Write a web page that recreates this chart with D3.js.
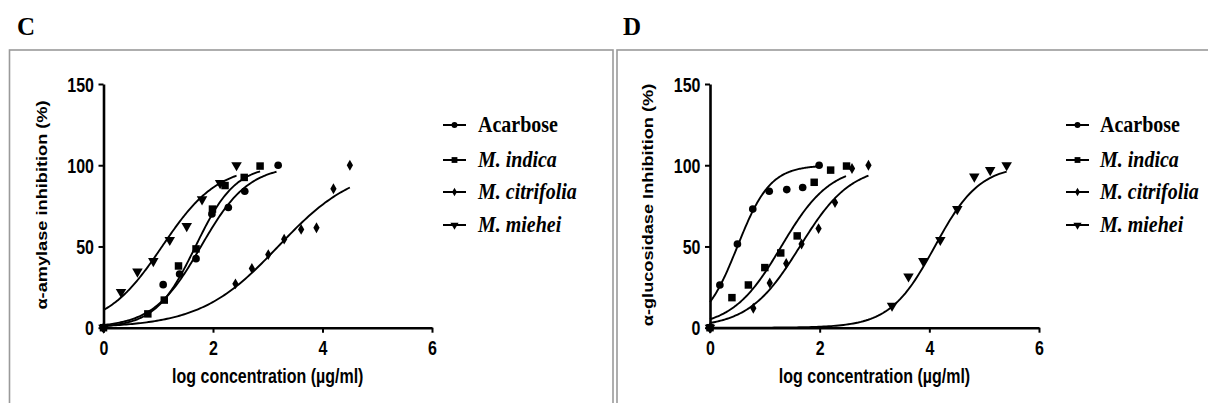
<!DOCTYPE html>
<html><head><meta charset="utf-8">
<script src="https://cdn.jsdelivr.net/npm/d3@7"></script>
<style>body{margin:0;background:#fff}svg{display:block}</style>
</head><body>
<svg id="chart" width="1208" height="403"></svg>
<script>
// ---------- data ----------
const seriesNames = ["Acarbose", "M. indica", "M. citrifolia", "M. miehei"];
const italicNames = [false, true, true, true];
const xTicks = [0, 2, 4, 6];
const yTicks = [0, 50, 100, 150];

// Panel C : alpha-amylase
const acarboseC_x = [0, 1.09, 1.39, 1.69, 1.98, 2.28, 2.58, 3.19];
const acarboseC_y = [0, 26.5, 33, 42.5, 70, 74, 84, 100];
const indicaC_x = [0, 0.81, 1.11, 1.37, 1.69, 1.99, 2.22, 2.57, 2.86];
const indicaC_y = [0, 8.5, 17, 38, 48.5, 73, 87.5, 92.5, 99.5];
const citrifoliaC_x = [0, 2.41, 2.71, 3.01, 3.30, 3.61, 3.89, 4.20, 4.50];
const citrifoliaC_y = [0, 27, 36.5, 45, 54.5, 60.5, 61.5, 85.5, 100];
const mieheiC_x = [0, 0.32, 0.62, 0.91, 1.21, 1.52, 1.80, 2.13, 2.43];
const mieheiC_y = [0, 22, 34.5, 41, 54, 62.5, 79, 89, 100];
// fitted sigmoid (bottom 0, top 100) parameters
const logEC50C = [1.78, 1.68, 3.19, 1.07];
const hillC = [1.0, 1.19, 0.61, 0.855];
const fitEndC = [3.16, 2.86, 4.50, 2.43];

// Panel D : alpha-glucosidase
const acarboseD_x = [0, 0.18, 0.50, 0.78, 1.08, 1.40, 1.69, 1.99];
const acarboseD_y = [0, 26.3, 51.5, 73, 84, 85, 86.3, 100];
const indicaD_x = [0, 0.40, 0.70, 1.00, 1.29, 1.59, 1.90, 2.20, 2.49];
const indicaD_y = [0, 18.5, 26.3, 37, 46, 56.5, 89.5, 97, 99.5];
const citrifoliaD_x = [0, 0.79, 1.09, 1.39, 1.67, 1.98, 2.28, 2.59, 2.89];
const citrifoliaD_y = [0, 12, 27.5, 39.5, 51.5, 61, 77, 98, 100];
const mieheiD_x = [0, 3.32, 3.62, 3.89, 4.20, 4.51, 4.82, 5.11, 5.41];
const mieheiD_y = [0, 13.5, 31.5, 41, 54, 73, 93, 97, 100];
const logEC50D = [0.50, 1.30, 1.64, 4.10];
const hillD = [1.45, 0.97, 0.93, 1.06];
const fitEndD = [1.99, 2.48, 2.89, 5.41];

// ---------- drawing ----------
const svg = d3.select("#chart");
const SANS = "'Liberation Sans', Arial, sans-serif";
const SERIF = "'Liberation Serif', 'Times New Roman', serif";
const STRETCH = 1.3;

const symbolTypes = [d3.symbolCircle, d3.symbolSquare, d3.symbolDiamond, d3.symbolTriangle];
const symbolSizes = [46, 56, 34, 48];
const symbolRot = [0, 0, 0, 180];

function marker(g, i, x, y, scale) {
  g.append("path")
    .attr("d", d3.symbol().type(symbolTypes[i]).size(symbolSizes[i] * (scale || 1))())
    .attr("transform", `translate(${x},${y}) rotate(${symbolRot[i]})`)
    .attr("fill", "#000");
}

function stretchedText(g, x, y, str, opts) {
  const t = g.append("text")
    .attr("transform", `translate(${x},${y}) scale(1,${opts.stretch || 1})${opts.rotate ? " rotate(-90)" : ""}`)
    .attr("text-anchor", opts.anchor || "start")
    .attr("font-family", opts.family || SANS)
    .attr("font-weight", opts.weight || "bold")
    .attr("font-size", opts.size)
    .attr("fill", "#000")
    .text(str);
  if (opts.italic) t.attr("font-style", "italic");
  return t;
}

// frames
svg.append("rect").attr("x", 9.5).attr("y", 50).attr("width", 603.5).attr("height", 380)
  .attr("fill", "none").attr("stroke", "#9a9a9a").attr("stroke-width", 1.6);
svg.append("rect").attr("x", 617).attr("y", 50).attr("width", 620).attr("height", 380)
  .attr("fill", "none").attr("stroke", "#9a9a9a").attr("stroke-width", 1.6);

function panel(cfg) {
  const g = svg.append("g");
  const x = d3.scaleLinear().domain([0, 6]).range(cfg.xRange);
  const y = d3.scaleLinear().domain([0, 150]).range([327.7, 84]);

  // panel letter
  stretchedText(g, cfg.letterX, 35, cfg.letter, {size: 25, family: SERIF});

  // axes
  const ya = g.append("g").attr("transform", `translate(${cfg.xRange[0]},0)`)
    .call(d3.axisLeft(y).tickValues(yTicks).tickFormat(d3.format("d"))
      .tickSize(5).tickSizeOuter(0).tickPadding(4));
  const xa = g.append("g").attr("transform", `translate(0,${y(0)})`)
    .call(d3.axisBottom(x).tickValues(xTicks).tickFormat(d3.format("d"))
      .tickSize(5).tickSizeOuter(0).tickPadding(4));
  [ya, xa].forEach(a => {
    a.select(".domain").attr("stroke", "#000").attr("stroke-width", 2.6);
    a.selectAll(".tick line").attr("stroke", "#000").attr("stroke-width", 2);
    a.selectAll(".tick text").attr("font-family", SANS).attr("font-weight", "bold")
      .attr("font-size", 16).attr("fill", "#000");
  });
  ya.selectAll(".tick text").attr("x", -9.5).attr("dy", null).attr("y", 0)
    .attr("transform", `scale(1,${STRETCH})`).attr("dominant-baseline", "central");
  xa.selectAll(".tick text").attr("y", 0).attr("dy", null)
    .attr("transform", `translate(0,${12.3 + 11.5 * STRETCH}) scale(1,${STRETCH})`);

  // axis titles
  stretchedText(g, (cfg.xRange[0] + cfg.xRange[1]) / 2, 382.5, "log concentration (\u00b5g/ml)",
    {size: 16, anchor: "middle", stretch: STRETCH});
  stretchedText(g, cfg.yLabelX, 205, cfg.yLabel,
    {size: 14, anchor: "middle", stretch: STRETCH, rotate: true});

  // fitted curves
  const line = d3.line().x(d => x(d[0])).y(d => y(d[1]));
  cfg.series.forEach((s, i) => {
    const n = 120, pts = [];
    for (let k = 0; k <= n; k++) {
      const xv = cfg.fitEnd[i] * k / n;
      pts.push([xv, 100 / (1 + Math.pow(10, (cfg.ec50[i] - xv) * cfg.hill[i]))]);
    }
    g.append("path").attr("d", line(pts)).attr("fill", "none")
      .attr("stroke", "#000").attr("stroke-width", 1.9);
  });
  // data points
  cfg.series.forEach((s, i) => {
    s[0].forEach((xv, k) => marker(g, i, x(xv), y(s[1][k])));
  });

  // legend
  const ly = [125, 160, 192, 225];
  seriesNames.forEach((name, i) => {
    g.append("line").attr("x1", cfg.legX).attr("x2", cfg.legX + 23)
      .attr("y1", ly[i]).attr("y2", ly[i]).attr("stroke", "#000").attr("stroke-width", 2);
    marker(g, i, cfg.legX + 11.5, ly[i], 0.6);
    stretchedText(g, cfg.legTextX, ly[i] + 6.5, name,
      {size: 20, family: SERIF, italic: italicNames[i], stretch: 1.12});
  });
}

panel({
  letter: "C", letterX: 17, xRange: [103.5, 432],
  yLabel: "\u03b1-amylase inhibition (%)", yLabelX: 47,
  series: [[acarboseC_x, acarboseC_y], [indicaC_x, indicaC_y],
           [citrifoliaC_x, citrifoliaC_y], [mieheiC_x, mieheiC_y]],
  ec50: logEC50C, hill: hillC, fitEnd: fitEndC,
  legX: 443, legTextX: 478
});
panel({
  letter: "D", letterX: 623, xRange: [710, 1039],
  yLabel: "\u03b1-glucosidase Inhibition (%)", yLabelX: 653,
  series: [[acarboseD_x, acarboseD_y], [indicaD_x, indicaD_y],
           [citrifoliaD_x, citrifoliaD_y], [mieheiD_x, mieheiD_y]],
  ec50: logEC50D, hill: hillD, fitEnd: fitEndD,
  legX: 1066, legTextX: 1100
});
</script>
</body></html>
